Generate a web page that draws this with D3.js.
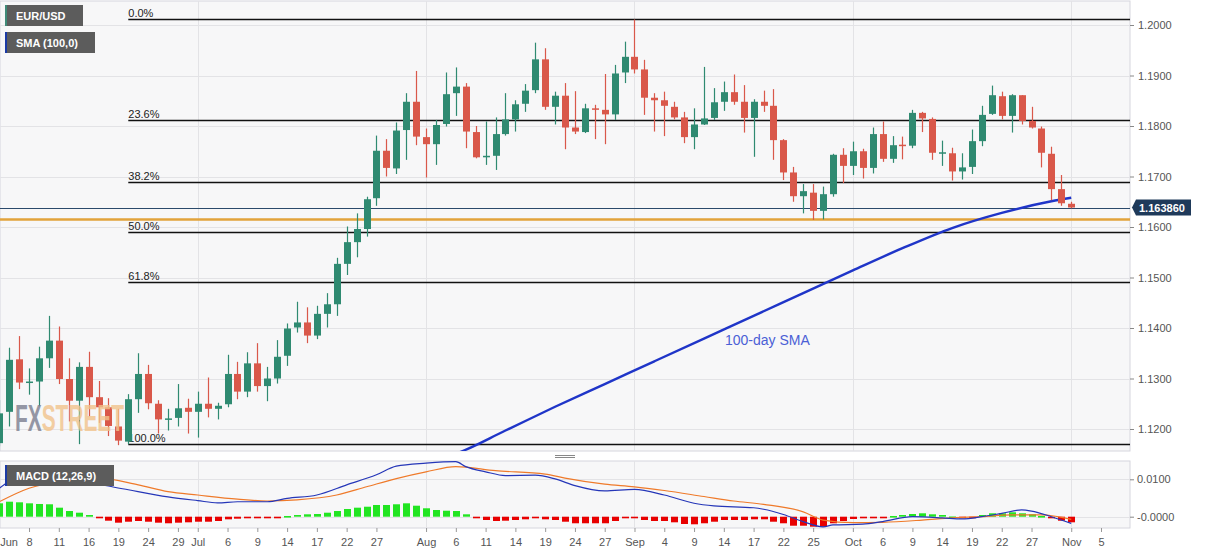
<!DOCTYPE html>
<html><head><meta charset="utf-8">
<script src="https://cdn.jsdelivr.net/npm/d3@7/dist/d3.min.js"></script>
<style>
body{margin:0;background:#fff;}
svg text{font-family:"Liberation Sans",Arial,sans-serif;}
</style></head><body>
<svg id="c" width="1207" height="555"></svg>
<script>
// ---------- DATA ----------
const dates = [
"2020-06-03","2020-06-04","2020-06-05","2020-06-08","2020-06-09","2020-06-10","2020-06-11","2020-06-12","2020-06-15","2020-06-16","2020-06-17","2020-06-18","2020-06-19","2020-06-22","2020-06-23","2020-06-24","2020-06-25","2020-06-26","2020-06-29","2020-06-30",
"2020-07-01","2020-07-02","2020-07-03","2020-07-06","2020-07-07","2020-07-08","2020-07-09","2020-07-10","2020-07-13","2020-07-14","2020-07-15","2020-07-16","2020-07-17","2020-07-20","2020-07-21","2020-07-22","2020-07-23","2020-07-24","2020-07-27","2020-07-28","2020-07-29","2020-07-30","2020-07-31",
"2020-08-03","2020-08-04","2020-08-05","2020-08-06","2020-08-07","2020-08-10","2020-08-11","2020-08-12","2020-08-13","2020-08-14","2020-08-17","2020-08-18","2020-08-19","2020-08-20","2020-08-21","2020-08-24","2020-08-25","2020-08-26","2020-08-27","2020-08-28","2020-08-31",
"2020-09-01","2020-09-02","2020-09-03","2020-09-04","2020-09-07","2020-09-08","2020-09-09","2020-09-10","2020-09-11","2020-09-14","2020-09-15","2020-09-16","2020-09-17","2020-09-18","2020-09-21","2020-09-22","2020-09-23","2020-09-24","2020-09-25","2020-09-28","2020-09-29","2020-09-30",
"2020-10-01","2020-10-02","2020-10-05","2020-10-06","2020-10-07","2020-10-08","2020-10-09","2020-10-12","2020-10-13","2020-10-14","2020-10-15","2020-10-16","2020-10-19","2020-10-20","2020-10-21","2020-10-22","2020-10-23","2020-10-26","2020-10-27","2020-10-28","2020-10-29","2020-10-30",
"2020-11-02"];
const open = [
1.1172,1.1234,1.1338,1.1292,1.1294,1.1340,1.1375,1.1299,1.1256,1.1323,1.1263,1.1243,1.1205,1.1175,1.1259,1.1309,1.1250,1.1219,1.1222,1.1242,
1.1234,1.1250,1.1240,1.1249,1.1309,1.1274,1.1330,1.1285,1.1300,1.1345,1.1401,1.1411,1.1385,1.1428,1.1447,1.1527,1.1570,1.1596,1.1657,1.1751,1.1716,1.1792,1.1848,
1.1778,1.1764,1.1804,1.1865,1.1878,1.1788,1.1738,1.1741,1.1784,1.1813,1.1844,1.1871,1.1932,1.1838,1.1860,1.1797,1.1788,1.1835,1.1832,1.1823,1.1906,
1.1937,1.1912,1.1856,1.1851,1.1838,1.1817,1.1778,1.1803,1.1816,1.1848,1.1867,1.1848,1.1816,1.1848,1.1840,1.1772,1.1708,1.1661,1.1668,1.1632,1.1665,1.1743,
1.1721,1.1750,1.1717,1.1784,1.1735,1.1763,1.1761,1.1826,1.1814,1.1747,1.1746,1.1710,1.1719,1.1770,1.1824,1.1859,1.1820,1.1861,1.1810,1.1795,1.1745,1.1675,
1.1646];
const high = [
1.1257,1.1361,1.1384,1.1320,1.1363,1.1424,1.1403,1.1340,1.1332,1.1353,1.1295,1.1261,1.1240,1.1269,1.1350,1.1327,1.1257,1.1240,1.1289,1.1260,
1.1274,1.1302,1.1252,1.1347,1.1333,1.1352,1.1370,1.1323,1.1376,1.1409,1.1452,1.1441,1.1444,1.1469,1.1539,1.1601,1.1627,1.1660,1.1781,1.1774,1.1807,1.1865,1.1909,
1.1795,1.1812,1.1906,1.1916,1.1885,1.1800,1.1809,1.1817,1.1865,1.1851,1.1883,1.1965,1.1954,1.1868,1.1885,1.1869,1.1844,1.1842,1.1903,1.1921,1.1967,
1.2011,1.1931,1.1865,1.1868,1.1848,1.1828,1.1835,1.1917,1.1875,1.1888,1.1902,1.1881,1.1853,1.1870,1.1873,1.1774,1.1719,1.1685,1.1685,1.1680,1.1745,1.1756,
1.1769,1.1755,1.1797,1.1809,1.1780,1.1779,1.1832,1.1828,1.1817,1.1771,1.1757,1.1746,1.1793,1.1840,1.1880,1.1868,1.1863,1.1861,1.1838,1.1799,1.1759,1.1703,
1.1650];
const low = [
1.1166,1.1205,1.1279,1.1268,1.1245,1.1321,1.1289,1.1215,1.1170,1.1225,1.1212,1.1186,1.1168,1.1170,1.1232,1.1239,1.1191,1.1197,1.1205,1.1191,
1.1183,1.1223,1.1219,1.1243,1.1259,1.1263,1.1274,1.1255,1.1290,1.1325,1.1391,1.1370,1.1378,1.1401,1.1424,1.1505,1.1540,1.1581,1.1642,1.1700,1.1705,1.1733,1.1762,
1.1698,1.1723,1.1799,1.1820,1.1756,1.1736,1.1723,1.1713,1.1781,1.1789,1.1828,1.1865,1.1832,1.1803,1.1754,1.1784,1.1786,1.1774,1.1764,1.1812,1.1885,
1.1904,1.1822,1.1789,1.1780,1.1813,1.1766,1.1754,1.1802,1.1812,1.1830,1.1842,1.1787,1.1739,1.1828,1.1733,1.1693,1.1650,1.1627,1.1614,1.1615,1.1660,1.1687,
1.1703,1.1696,1.1706,1.1729,1.1727,1.1734,1.1756,1.1788,1.1733,1.1721,1.1692,1.1694,1.1705,1.1760,1.1822,1.1813,1.1787,1.1803,1.1795,1.1718,1.1653,1.1642,
1.1637];
const close = [
1.1231,1.1337,1.1292,1.1294,1.1340,1.1375,1.1299,1.1256,1.1323,1.1263,1.1243,1.1206,1.1177,1.1259,1.1309,1.1251,1.1219,1.1221,1.1241,1.1234,
1.1250,1.1240,1.1246,1.1309,1.1274,1.1330,1.1285,1.1300,1.1343,1.1399,1.1411,1.1385,1.1428,1.1447,1.1527,1.1570,1.1596,1.1655,1.1751,1.1717,1.1791,1.1848,1.1779,
1.1764,1.1802,1.1863,1.1878,1.1789,1.1738,1.1741,1.1784,1.1813,1.1843,1.1870,1.1932,1.1838,1.1860,1.1797,1.1789,1.1835,1.1832,1.1823,1.1904,1.1937,
1.1912,1.1856,1.1851,1.1840,1.1817,1.1778,1.1803,1.1815,1.1847,1.1867,1.1848,1.1816,1.1848,1.1840,1.1772,1.1708,1.1661,1.1671,1.1632,1.1665,1.1743,1.1721,
1.1750,1.1717,1.1784,1.1735,1.1762,1.1761,1.1826,1.1815,1.1747,1.1748,1.1710,1.1718,1.1770,1.1822,1.1861,1.1820,1.1861,1.1810,1.1797,1.1747,1.1675,1.1647,
1.16386];
const macdHist = [
0.00358,0.00401,0.00385,0.00358,0.00340,0.00332,0.00241,0.00152,0.00107,0.00045,-0.00027,-0.00107,-0.00160,-0.00134,-0.00115,-0.00134,-0.00160,-0.00176,-0.00160,-0.00150,
-0.00134,-0.00134,-0.00115,-0.00070,-0.00053,-0.00035,-0.00035,-0.00027,-0.00008,0.00019,0.00045,0.00064,0.00072,0.00107,0.00152,0.00206,0.00241,0.00267,0.00313,0.00313,0.00332,0.00358,0.00294,
0.00225,0.00179,0.00160,0.00152,0.00064,-0.00027,-0.00088,-0.00115,-0.00107,-0.00088,-0.00070,-0.00043,-0.00070,-0.00088,-0.00134,-0.00176,-0.00176,-0.00176,-0.00176,-0.00115,-0.00043,
-0.00043,-0.00088,-0.00115,-0.00115,-0.00150,-0.00195,-0.00203,-0.00176,-0.00134,-0.00088,-0.00088,-0.00088,-0.00070,-0.00070,-0.00134,-0.00176,-0.00241,-0.00241,-0.00267,-0.00267,-0.00176,-0.00115,
-0.00061,-0.00043,-0.00008,-0.00008,0.00019,0.00045,0.00072,0.00091,0.00064,0.00045,0.00005,-0.00008,-0.00008,0.00045,0.00091,0.00091,0.00118,0.00091,0.00064,0.00019,-0.00043,-0.00107,
-0.00150];
const macdDates = ["2020-06-03","2020-06-04","2020-06-09","2020-06-12","2020-06-18","2020-06-22","2020-06-26","2020-07-01","2020-07-03","2020-07-07","2020-07-10","2020-07-14","2020-07-17","2020-07-22","2020-07-27","2020-07-29","2020-08-03","2020-08-06","2020-08-07","2020-08-11","2020-08-13","2020-08-18","2020-08-20","2020-08-24","2020-08-27","2020-09-01","2020-09-04","2020-09-09","2020-09-11","2020-09-17","2020-09-18","2020-09-22","2020-09-24","2020-09-28","2020-09-29","2020-10-02","2020-10-06","2020-10-09","2020-10-14","2020-10-16","2020-10-20","2020-10-22","2020-10-26","2020-10-27","2020-10-29","2020-11-02"];
const macdLine = [0.0076,0.0094,0.0116,0.0111,0.0082,0.0072,0.0053,0.0043,0.0037,0.0040,0.0040,0.0049,0.0058,0.0085,0.0112,0.0135,0.0143,0.0147,0.0134,0.0120,0.0110,0.0111,0.0101,0.0083,0.0069,0.0073,0.0058,0.0036,0.0029,0.0024,0.0020,0.0006,-0.0013,-0.0027,-0.0022,-0.0020,-0.0013,0.0000,-0.0003,-0.0006,0.0000,0.0009,0.0018,0.0015,0.0000,-0.0018];
const signalDates = ["2020-06-03","2020-06-08","2020-06-12","2020-06-17","2020-06-23","2020-06-26","2020-07-01","2020-07-07","2020-07-10","2020-07-15","2020-07-21","2020-07-24","2020-07-29","2020-08-03","2020-08-06","2020-08-12","2020-08-19","2020-08-21","2020-08-27","2020-09-01","2020-09-04","2020-09-10","2020-09-15","2020-09-18","2020-09-24","2020-09-28","2020-10-01","2020-10-06","2020-10-12","2020-10-15","2020-10-20","2020-10-23","2020-10-28","2020-11-02"];
const signalLine = [0.0040,0.0076,0.0098,0.0103,0.0085,0.0067,0.0058,0.0047,0.0042,0.0045,0.0058,0.0080,0.0102,0.0120,0.0134,0.0123,0.0114,0.0103,0.0087,0.0080,0.0070,0.0054,0.0042,0.0033,0.0013,-0.0009,-0.0016,-0.0015,-0.0009,-0.0003,0.0000,0.0005,0.0005,-0.0007];
const smaDates = ["2020-07-31","2020-08-06","2020-08-13","2020-08-20","2020-08-27","2020-09-03","2020-09-10","2020-09-17","2020-09-24","2020-10-01","2020-10-08","2020-10-15","2020-10-22","2020-10-29","2020-11-02"];
const smaVals = [1.1130,1.1151,1.1197,1.1244,1.1289,1.1334,1.1379,1.1424,1.1469,1.1514,1.1558,1.1598,1.1628,1.1651,1.1658];
const priceTicks = [1.12,1.13,1.14,1.15,1.16,1.17,1.18,1.19,1.20];
const macdTicks = [0, 0.01];
const macdTickLabels = ["-0.0000","0.0100"];
const xTickDates = ["2020-06-01","2020-06-08","2020-06-11","2020-06-16","2020-06-19","2020-06-24","2020-06-29","2020-07-01","2020-07-06","2020-07-09","2020-07-14","2020-07-17","2020-07-22","2020-07-27","2020-08-03","2020-08-06","2020-08-11","2020-08-14","2020-08-19","2020-08-24","2020-08-27","2020-09-01","2020-09-04","2020-09-09","2020-09-14","2020-09-17","2020-09-22","2020-09-25","2020-10-01","2020-10-06","2020-10-09","2020-10-14","2020-10-19","2020-10-22","2020-10-27","2020-11-02","2020-11-05"];
const xTickLabels = ["Jun","8","11","16","19","24","29","Jul","6","9","14","17","22","27","Aug","6","11","14","19","24","27","Sep","4","9","14","17","22","25","Oct","6","9","14","19","22","27","Nov","5"];
const monthStarts = ["2020-07-01","2020-08-03","2020-09-01","2020-10-01","2020-11-02"];
const fibLevels = [0, 23.6, 38.2, 50, 61.8, 100];
const fibLabels = ["0.0%","23.6%","38.2%","50.0%","61.8%","100.0%"];
const fibHighLow = [1.2011, 1.1170];
const fibStartDate = "2020-06-22";
const supportLevel = 1.1615;
const lastPrice = 1.163860;

// ---------- LAYOUT ----------
const W = 1130, mainTop = 1, mainBot = 451, macdTop = 461, macdBot = 528;
const svg = d3.select("#c");

const cal = d3.utcDay.range(new Date("2020-06-01"), new Date("2020-11-07")).filter(d => d.getUTCDay() % 6 !== 0);
const calIdx = new Map(cal.map((d, i) => [d.toISOString().slice(0, 10), i]));
const xi = s => calIdx.get(s);
const x = d3.scaleLinear().domain([0, 113]).range([-20.6, 1101]);
const X = s => x(xi(s));
const y = d3.scaleLinear().domain([1.12, 1.20]).range([429, 25]);
const ym = d3.scaleLinear().domain([0, 0.01]).range([516.7, 479.3]);

const defs = svg.append("defs");
defs.append("clipPath").attr("id", "cm").append("rect").attr("x", 0).attr("y", mainTop).attr("width", W).attr("height", mainBot - mainTop);
defs.append("clipPath").attr("id", "cd").append("rect").attr("x", 0).attr("y", macdTop).attr("width", W).attr("height", macdBot - macdTop);

svg.append("rect").attr("x", 0).attr("y", mainTop).attr("width", W).attr("height", mainBot - mainTop).attr("fill", "#f7f7f8").attr("stroke", "#d6d6de");
svg.append("rect").attr("x", 0).attr("y", macdTop).attr("width", W).attr("height", macdBot - macdTop).attr("fill", "#f7f7f8").attr("stroke", "#d6d6de");

const gm = svg.append("g").attr("clip-path", "url(#cm)");
const gd = svg.append("g").attr("clip-path", "url(#cd)");

gm.selectAll(".hg").data(priceTicks).join("line").attr("x1", 0).attr("x2", W)
  .attr("y1", d => Math.round(y(d)) + 0.5).attr("y2", d => Math.round(y(d)) + 0.5).attr("stroke", "#e3e3e6");
gm.selectAll(".vg").data(monthStarts).join("line").attr("y1", mainTop).attr("y2", mainBot)
  .attr("x1", d => Math.round(X(d)) + 0.5).attr("x2", d => Math.round(X(d)) + 0.5).attr("stroke", "#e3e3e6");
gd.selectAll(".hg").data(macdTicks).join("line").attr("x1", 0).attr("x2", W)
  .attr("y1", d => Math.round(ym(d)) + 0.5).attr("y2", d => Math.round(ym(d)) + 0.5).attr("stroke", "#e3e3e6");
gd.selectAll(".vg").data(monthStarts).join("line").attr("y1", macdTop).attr("y2", macdBot)
  .attr("x1", d => Math.round(X(d)) + 0.5).attr("x2", d => Math.round(X(d)) + 0.5).attr("stroke", "#e3e3e6");

const fibPrice = l => fibHighLow[0] - l / 100 * (fibHighLow[0] - fibHighLow[1]);
const fx0 = X(fibStartDate);
gm.selectAll(".fib").data(fibLevels).join("line").attr("x1", fx0).attr("x2", W)
  .attr("y1", d => Math.round(y(fibPrice(d))) + 0.5).attr("y2", d => Math.round(y(fibPrice(d))) + 0.5)
  .attr("stroke", "#111").attr("stroke-width", 1.3);
gm.selectAll(".fibt").data(fibLevels).join("text").attr("x", fx0).attr("y", d => y(fibPrice(d)) - 2)
  .attr("font-size", 11).attr("fill", "#222").text((d, i) => fibLabels[i]);

gm.append("line").attr("x1", 0).attr("x2", W).attr("y1", y(supportLevel)).attr("y2", y(supportLevel))
  .attr("stroke", "#e2a33b").attr("stroke-width", 2.6);
gm.append("line").attr("x1", 0).attr("x2", W).attr("y1", Math.round(y(lastPrice)) + 0.5).attr("y2", Math.round(y(lastPrice)) + 0.5)
  .attr("stroke", "#2b4a6b").attr("stroke-width", 1);

gm.append("path").datum(smaDates.map((d, i) => [X(d), y(smaVals[i])]))
  .attr("d", d3.line().curve(d3.curveMonotoneX)).attr("fill", "none").attr("stroke", "#1f35c8").attr("stroke-width", 2.4);

const cd = dates.map((d, i) => ({d, o: open[i], h: high[i], l: low[i], c: close[i]}));
const up = "#2f8a71", dn = "#d9584a";
const cg = gm.selectAll(".cdl").data(cd).join("g");
cg.append("line").attr("x1", d => Math.round(X(d.d)) + 0.5).attr("x2", d => Math.round(X(d.d)) + 0.5)
  .attr("y1", d => y(d.h)).attr("y2", d => y(d.l)).attr("stroke", d => d.c >= d.o ? up : dn).attr("stroke-width", 1.2);
cg.append("rect").attr("x", d => Math.round(X(d.d)) - 3).attr("width", 7)
  .attr("y", d => y(Math.max(d.o, d.c))).attr("height", d => Math.max(1.5, Math.abs(y(d.o) - y(d.c))))
  .attr("fill", d => d.c >= d.o ? up : dn);

gm.append("text").attr("x", 725).attr("y", 345).attr("font-size", 14).attr("fill", "#4b5fd6").text("100-day SMA");

const wm = gm.append("text").attr("x", 15).attr("y", 431).attr("font-size", 37).attr("font-weight", "bold")
  .attr("textLength", 109).attr("lengthAdjust", "spacingAndGlyphs").attr("opacity", 0.8);
wm.append("tspan").attr("fill", "#7c7f90").text("FX");
wm.append("tspan").attr("fill", "#f2c38c").text("STREET");

gd.selectAll(".hb").data(macdHist).join("rect")
  .attr("x", (d, i) => Math.round(X(dates[i])) - 3).attr("width", 7)
  .attr("y", d => d >= 0 ? ym(d) : ym(0))
  .attr("height", d => Math.max(1.6, Math.abs(ym(d) - ym(0))))
  .attr("fill", d => d >= 0 ? "#22e522" : "#e80000");
gd.append("path").datum(signalDates.map((d, i) => [X(d), ym(signalLine[i])]))
  .attr("d", d3.line().curve(d3.curveMonotoneX)).attr("fill", "none").attr("stroke", "#ef7a2a").attr("stroke-width", 1.2);
gd.append("path").datum(macdDates.map((d, i) => [X(d), ym(macdLine[i])]))
  .attr("d", d3.line().curve(d3.curveMonotoneX)).attr("fill", "none").attr("stroke", "#2536b8").attr("stroke-width", 1.2);

const ra = svg.append("g").attr("transform", `translate(${W},0)`);
ra.call(d3.axisRight(y).tickValues(priceTicks).tickFormat(d => d.toFixed(4)).tickSize(4).tickPadding(4));
ra.select(".domain").remove();
const rm = svg.append("g").attr("transform", `translate(${W},0)`);
rm.call(d3.axisRight(ym).tickValues(macdTicks).tickFormat((d, i) => macdTickLabels[i]).tickSize(4).tickPadding(3));
rm.select(".domain").remove();
svg.selectAll(".tick text").attr("font-size", 11).attr("fill", "#555").attr("font-family", "Liberation Sans, Arial, sans-serif");
svg.selectAll(".tick line").attr("stroke", "#888");

const bx = svg.append("g").attr("transform", `translate(0,${macdBot})`);
bx.call(d3.axisBottom(x).tickValues(xTickDates.map(xi)).tickFormat((d, i) => xTickLabels[i]).tickSize(4).tickPadding(6));
bx.select(".domain").remove();
bx.selectAll(".tick text").attr("font-size", 11).attr("fill", "#555").attr("font-family", "Liberation Sans, Arial, sans-serif");
bx.selectAll(".tick line").attr("stroke", "#999");
bx.selectAll(".tick").filter((d, i) => i === 0).attr("transform", "translate(9,0)").select("line").remove();

const ty = y(lastPrice);
svg.append("path").attr("d", `M${W + 2},${ty} L${W + 6},${ty - 8} L${W + 61},${ty - 8} L${W + 61},${ty + 8} L${W + 6},${ty + 8} Z`).attr("fill", "#1f3a5a");
svg.append("text").attr("x", W + 9).attr("y", ty + 4).attr("font-size", 11).attr("font-weight", "bold").attr("fill", "#fff").text(lastPrice.toFixed(6));

svg.append("line").attr("x1", 555).attr("x2", 575).attr("y1", 455.5).attr("y2", 455.5).attr("stroke", "#888");
svg.append("line").attr("x1", 555).attr("x2", 575).attr("y1", 457.5).attr("y2", 457.5).attr("stroke", "#888");

function tag(x0, y0, w, h, txt, accent) {
  svg.append("rect").attr("x", x0).attr("y", y0).attr("width", w).attr("height", h).attr("fill", "#5c5c5c");
  svg.append("rect").attr("x", x0).attr("y", y0).attr("width", 2).attr("height", h).attr("fill", accent);
  svg.append("text").attr("x", x0 + 11).attr("y", y0 + h / 2 + 4).attr("font-size", 11).attr("font-weight", "bold").attr("fill", "#fff").text(txt);
}
tag(5, 5, 78, 21, "EUR/USD", "#3f8a78");
tag(5, 32, 90, 21, "SMA (100,0)", "#1b3aa5");
tag(5, 465, 109, 21, "MACD (12,26,9)", "#1b3aa5");
</script>
</body></html>
